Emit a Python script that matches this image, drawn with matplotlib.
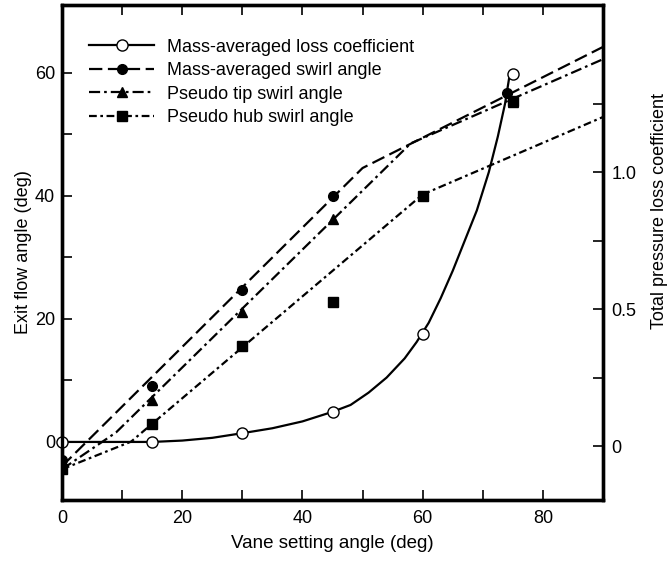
import matplotlib
matplotlib.use("Agg")
import matplotlib.pyplot as plt
from matplotlib.lines import Line2D

plt.rcParams['font.family'] = ['Liberation Sans', 'DejaVu Sans']

# measured points
vane = [0, 15, 30, 45, 60, 75]
loss = [0.015, 0.015, 0.047, 0.125, 0.41, 1.36]
swirl_mass_x = [0, 15, 30, 45, 74.1]
swirl_mass = [-3.0, 9.0, 24.7, 40.0, 56.7]
swirl_tip_x = [0, 15, 30, 45, 75]
swirl_tip = [-3.5, 6.8, 21.0, 36.2, 55.2]
swirl_hub_x = [0, 15, 30, 45, 60, 75]
swirl_hub = [-4.5, 2.9, 15.5, 22.7, 40.0, 55.4]

# faired curves as drawn in the figure
loss_curve_x = [0, 5, 10, 15, 20, 25, 30, 35, 40, 45, 48, 51, 54, 57, 59, 61,
                63, 65, 67, 69, 71, 72.5, 73.7, 74.5]
loss_curve_y = [0.015, 0.015, 0.015, 0.015, 0.02, 0.03, 0.047, 0.065, 0.09,
                0.125, 0.15, 0.195, 0.25, 0.32, 0.38, 0.45, 0.54, 0.64, 0.75,
                0.86, 1.0, 1.13, 1.25, 1.36]
mass_line_x = [0, 50, 90]
mass_line_y = [-4.0, 44.5, 64.2]
tip_line_x = [0, 9, 58, 90]
tip_line_y = [-4.5, 1.5, 48.5, 62.2]
hub_line_x = [0, 11.5, 60, 90]
hub_line_y = [-4.5, 0.0, 40.2, 52.8]

dash_mass = (0, (6, 2.5))
dash_tip = (0, (5, 1.8, 1.2, 1.8))
dash_hub = (0, (3.5, 1.6, 1.2, 1.6))

fig = plt.figure(figsize=(6.71, 5.66), dpi=100)
ax = fig.add_axes([0.0924, 0.1166, 0.8063, 0.8744])
ax2 = ax.twinx()

ax.plot(mass_line_x, mass_line_y, color='black', lw=1.6, ls=dash_mass)
ax.plot(tip_line_x, tip_line_y, color='black', lw=1.6, ls=dash_tip)
ax.plot(hub_line_x, hub_line_y, color='black', lw=1.6, ls=dash_hub)
ax.plot(swirl_mass_x, swirl_mass, 'o', color='black', ms=7)
ax.plot(swirl_tip_x, swirl_tip, '^', color='black', ms=7)
ax.plot(swirl_hub_x, swirl_hub, 's', color='black', ms=6.5)

ax2.plot(loss_curve_x, loss_curve_y, color='black', lw=1.6)
ax2.plot(vane, loss, 'o', color='black', mfc='white', ms=8, mew=1.0, clip_on=False)

ax.set_xlim(0, 90)
ax.set_ylim(-9.5, 71)
ax2.set_ylim(-0.197, 1.61)

ax.set_xticks(range(0, 100, 10))
ax.set_xticklabels(['0', '', '20', '', '40', '', '60', '', '80', ''])
ax.set_yticks(range(0, 70, 10))
ax.set_yticklabels(['0', '', '20', '', '40', '', '60'])
ax2.set_yticks([0, 0.25, 0.5, 0.75, 1.0, 1.25])
ax2.set_yticklabels(['0', '', '0.5', '', '1.0', ''])

ax.tick_params(axis='x', direction='in', length=7, width=1.2, top=True, labelsize=13, pad=7)
ax.tick_params(axis='y', direction='in', length=7, width=1.2, labelsize=13, pad=5)
ax2.tick_params(axis='y', direction='in', length=7, width=1.2, labelsize=13, pad=6)

for a in (ax, ax2):
    for s in a.spines.values():
        s.set_linewidth(2.4)

ax.set_xlabel('Vane setting angle (deg)', fontsize=13.5, labelpad=6)
ax.set_ylabel('Exit flow angle (deg)', fontsize=13, labelpad=2)
ax2.set_ylabel('Total pressure loss coefficient', fontsize=13)
ax2.yaxis.set_label_coords(1.088, 0.584)

handles = [
    Line2D([], [], color='black', lw=1.6, marker='o', mfc='white', ms=8),
    Line2D([], [], color='black', lw=1.6, ls=dash_mass, marker='o', ms=7),
    Line2D([], [], color='black', lw=1.6, ls=dash_tip, marker='^', ms=7),
    Line2D([], [], color='black', lw=1.6, ls=dash_hub, marker='s', ms=6.5),
]
labels = ['Mass-averaged loss coefficient', 'Mass-averaged swirl angle',
          'Pseudo tip swirl angle', 'Pseudo hub swirl angle']
ax2.legend(handles, labels, loc='upper left', bbox_to_anchor=(0.02, 0.965),
           frameon=False, fontsize=13, handlelength=3.6, handletextpad=0.7,
           labelspacing=0.36)

fig.savefig('out.png', dpi=100)
